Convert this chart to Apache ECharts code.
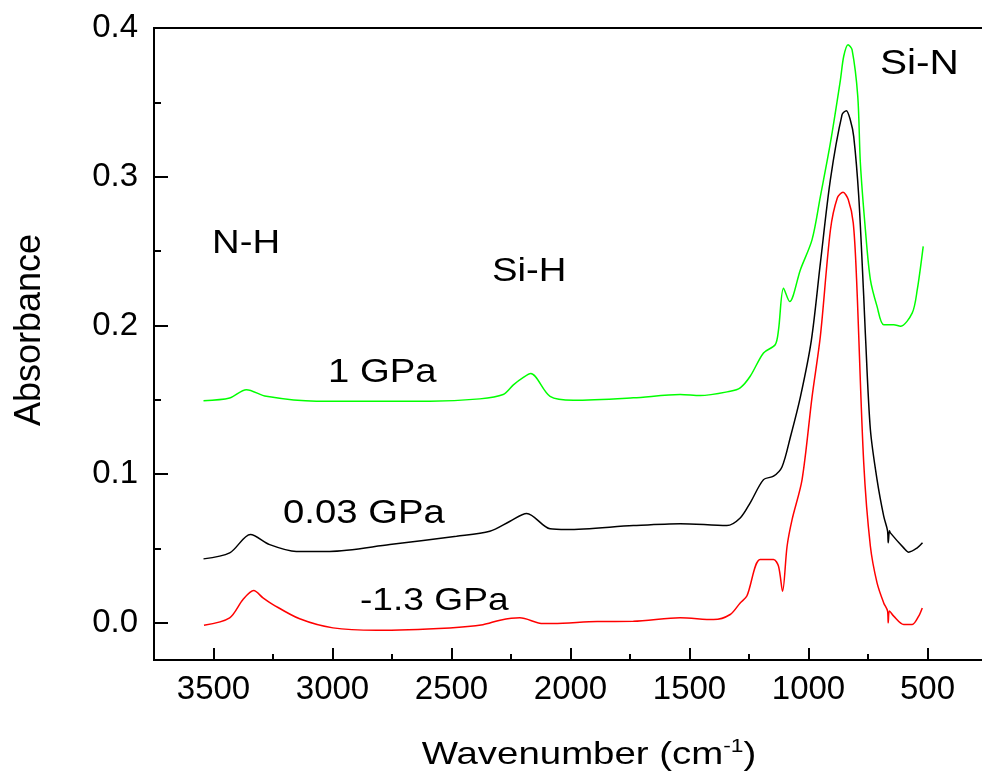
<!DOCTYPE html>
<html>
<head>
<meta charset="utf-8">
<script src="https://cdn.jsdelivr.net/npm/echarts@6/dist/echarts.min.js"></script>
<style>
  html, body { margin: 0; padding: 0; background: #fff; overflow: hidden; }
  #chart { width: 982px; height: 777px; }
</style>
</head>
<body>
<div id="chart"></div>
<script>
// -1.3 GPa (red)
var wnRed = [3540, 3432, 3376, 3331, 3292, 3250, 3138, 2998, 2815, 2507, 2368, 2296, 2213, 2115, 2072, 1888, 1736, 1539, 1399, 1329, 1287, 1259, 1203, 1147, 1126, 1109, 1090, 1069, 1027, 985, 950, 908, 879, 855, 833, 812, 798, 768, 740, 712, 684, 668, 665, 660, 642, 600, 564, 537, 522]
var absRed = [-0.0016, 0.0034, 0.0157, 0.0217, 0.0168, 0.0123, 0.0027, -0.0034, -0.005, -0.0034, -0.0013, 0.0018, 0.0034, -0.0005, -0.0005, 0.0009, 0.001, 0.0034, 0.0022, 0.0056, 0.0134, 0.018, 0.0426, 0.0426, 0.038, 0.0212, 0.0515, 0.0694, 0.0963, 0.152, 0.193, 0.264, 0.2857, 0.2895, 0.2846, 0.269, 0.231, 0.1076, 0.0515, 0.0269, 0.0134, 0.008, 0.0, 0.008, 0.0045, -0.0011, -0.0011, 0.0045, 0.010]

// 0.03 GPa (black)
var wnBlack = [3542, 3432, 3345, 3264, 3152, 3012, 2759, 2479, 2339, 2254, 2184, 2086, 2016, 1736, 1539, 1343, 1287, 1245, 1189, 1147, 1111, 1076, 1034, 988, 950, 908, 859, 841, 824, 810, 789, 768, 761, 740, 712, 684, 668, 665, 660, 656, 600, 579, 543, 521]
var absBlack = [0.043, 0.047, 0.0594, 0.0526, 0.048, 0.048, 0.0526, 0.0582, 0.0616, 0.0683, 0.0735, 0.0632, 0.0627, 0.0654, 0.0667, 0.0654, 0.0705, 0.0807, 0.0963, 0.0986, 0.105, 0.125, 0.152, 0.190, 0.242, 0.298, 0.3417, 0.3444, 0.338, 0.327, 0.287, 0.2196, 0.194, 0.130, 0.0963, 0.0717, 0.062, 0.0538, 0.062, 0.0605, 0.0504, 0.0475, 0.0504, 0.0538]

// 1 GPa (green)
var wnGreen = [3542, 3432, 3362, 3278, 3068, 2591, 2381, 2283, 2240, 2198, 2167, 2086, 1988, 1736, 1539, 1455, 1329, 1287, 1245, 1189, 1140, 1126, 1105, 1079, 1034, 985, 950, 908, 866, 852, 834, 817, 793, 782, 761, 740, 712, 684, 642, 614, 564, 543, 518]
var absGreen = [0.1494, 0.1512, 0.1568, 0.1523, 0.149, 0.149, 0.1506, 0.1535, 0.160, 0.165, 0.1676, 0.1523, 0.1497, 0.1513, 0.1535, 0.1528, 0.1557, 0.158, 0.1658, 0.1815, 0.187, 0.197, 0.225, 0.216, 0.2375, 0.2577, 0.2868, 0.3227, 0.365, 0.381, 0.3888, 0.3854, 0.354, 0.309, 0.2644, 0.2308, 0.2128, 0.2005, 0.2005, 0.1994, 0.2084, 0.224, 0.2532]

// ticks
var xMajor = [500, 1000, 1500, 2000, 2500, 3000, 3500]
var xMinor = [750, 1250, 1750, 2250, 2750, 3250]
var yMajor = [0, 0.1, 0.2, 0.3, 0.4]
var yMinor = [0.05, 0.15, 0.25, 0.35]

function pairs(xs, ys) {
  var out = []
  for (var i = 0; i < xs.length; i++) {
    out.push([xs[i], ys[i]])
  }
  return out
}

var font = 'Liberation Sans, Arial, sans-serif'
var black = '#000'

function note(text, x, y, size) {
  return {
    type: 'text', x: x, y: y, scaleX: 1.16,
    style: { text: text, fontSize: size, fontFamily: font, fill: black, textVerticalAlign: 'middle' }
  }
}

function xAx(extra) {
  var base = {
    type: 'value', inverse: true, min: 250, max: 3750, position: 'bottom',
    splitLine: { show: false },
    axisLine: { show: true, onZero: false, lineStyle: { color: black, width: 2 } },
    axisTick: { show: false },
    axisLabel: { show: false }
  }
  return Object.assign(base, extra)
}

function yAx(extra) {
  var base = {
    type: 'value', min: -0.025, max: 0.4, position: 'left',
    splitLine: { show: false },
    axisLine: { show: true, onZero: false, lineStyle: { color: black, width: 2 } },
    axisTick: { show: false },
    axisLabel: { show: false }
  }
  return Object.assign(base, extra)
}

var myChart = echarts.init(document.getElementById('chart'))
var option = {
  animation: false,
  backgroundColor: '#fff',
  grid: { left: 154, top: 28, right: -5, bottom: 117, containLabel: false, outerBoundsMode: 'none' },
  xAxis: [
    xAx({
      axisTick: { show: true, inside: true, length: 12, customValues: xMajor, lineStyle: { color: black, width: 2 } },
      axisLabel: {
        show: true, customValues: xMajor, margin: 13, fontSize: 33, fontFamily: font, color: black,
        formatter: function (v) { return String(v) }
      }
    }),
    xAx({
      axisTick: { show: true, inside: true, length: 6, customValues: xMinor, lineStyle: { color: black, width: 2 } }
    }),
    xAx({ position: 'top' })
  ],
  yAxis: [
    yAx({
      axisTick: { show: true, inside: true, length: 14, customValues: yMajor, lineStyle: { color: black, width: 2 } },
      axisLabel: {
        show: true, customValues: yMajor, margin: 16, fontSize: 33, fontFamily: font, color: black,
        formatter: function (v) { return v.toFixed(1) }
      }
    }),
    yAx({
      axisTick: { show: true, inside: true, length: 7, customValues: yMinor, lineStyle: { color: black, width: 2 } }
    })
  ],
  series: [
    {
      name: '-1.3 GPa', type: 'line', data: pairs(wnRed, absRed),
      showSymbol: false, smooth: 0.3, lineStyle: { color: '#ff0000', width: 1.5 }
    },
    {
      name: '0.03 GPa', type: 'line', data: pairs(wnBlack, absBlack),
      showSymbol: false, smooth: 0.3, lineStyle: { color: '#000000', width: 1.5 }
    },
    {
      name: '1 GPa', type: 'line', data: pairs(wnGreen, absGreen),
      showSymbol: false, smooth: 0.3, lineStyle: { color: '#00ff00', width: 1.5 }
    }
  ],
  graphic: [
    note('Si-N', 880, 64, 35),
    note('N-H', 212, 244, 33),
    note('Si-H', 492, 272, 33),
    note('1 GPa', 328, 373, 33),
    note('0.03 GPa', 283, 514, 33),
    note('-1.3 GPa', 360, 601, 32),
    {
      type: 'text', x: 30, y: 330, rotation: Math.PI / 2,
      style: { text: 'Absorbance', fontSize: 36, fontFamily: font, fill: black, textAlign: 'center', textVerticalAlign: 'middle' }
    },
    {
      type: 'text', x: 589, y: 755, scaleX: 1.2,
      style: {
        text: '{n|Wavenumber (cm}{s|-1}{n|)}',
        textAlign: 'center', textVerticalAlign: 'middle',
        rich: {
          n: { fontSize: 32, fontFamily: font, fill: black, lineHeight: 36 },
          s: { fontSize: 19, fontFamily: font, fill: black, verticalAlign: 'top', lineHeight: 36 }
        }
      }
    }
  ]
}
myChart.setOption(option)
</script>
</body>
</html>
